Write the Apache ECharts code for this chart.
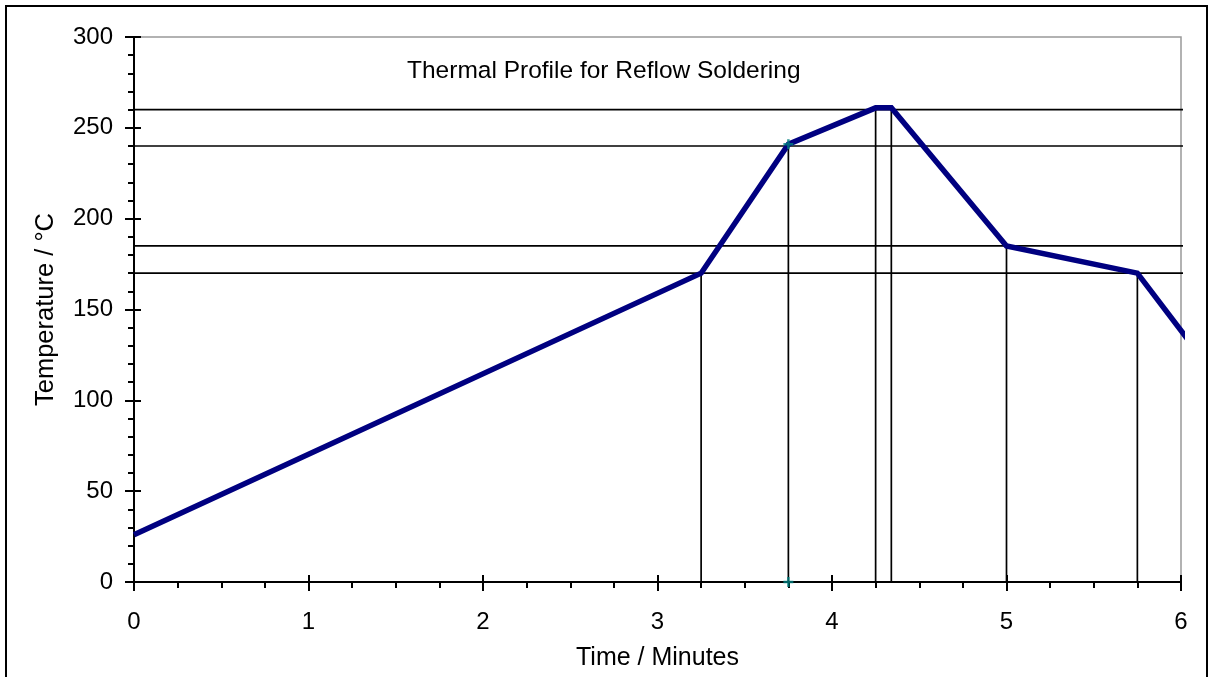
<!DOCTYPE html>
<html>
<head>
<meta charset="utf-8">
<script src="https://cdn.jsdelivr.net/npm/echarts@6/dist/echarts.min.js"></script>
<style>
html,body{margin:0;padding:0;background:#fff;}
#chart{width:1214px;height:677px;}
</style>
</head>
<body>
<div id="chart"></div>
<script>
// Profile (time in minutes, temperature in °C)
const profileTime = [0, 3.25, 3.75, 4.25, 4.34, 5, 5.75, 6.035];
const profileTemp = [26, 170, 241, 261, 261, 185, 170, 134];
// Vertical guide lines: x position and height
const vLineX = [3.25, 3.75, 4.25, 4.34, 5, 5.75];
const vLineTop = [170, 241, 261, 261, 185, 170];
// Horizontal guide lines
const hLevels = [170, 185, 240, 260];
const hSpan = [-0.035, 6.035];
// Cyan marker points
const markX = [3.75, 3.75];
const markY = [241, 0];
// Axis ticks
const xTicks = [0, 1, 2, 3, 4, 5, 6];
const yTicks = [0, 50, 100, 150, 200, 250, 300];

const FONT = 'Liberation Sans, Arial, sans-serif';
const chart = echarts.init(document.getElementById('chart'), null, {renderer: 'canvas'});

const series = [];
hLevels.forEach(v => {
  series.push({type: 'line', data: [[hSpan[0], v], [hSpan[1], v]], symbol: 'none', clip: false,
    lineStyle: {color: '#000', width: 1.7}, silent: true, z: 2});
});
vLineX.forEach((x, i) => {
  series.push({type: 'line', data: [[x, 0], [x, vLineTop[i]]], symbol: 'none', clip: false,
    lineStyle: {color: '#000', width: 1.7}, silent: true, z: 2});
});
series.push({type: 'line', data: profileTime.map((t, i) => [t, profileTemp[i]]), symbol: 'none', clip: false,
  lineStyle: {color: '#000080', width: 5.5, join: 'miter'}, z: 5});
series.push({type: 'scatter', data: markX.map((x, i) => [x, markY[i]]),
  symbol: 'path://M3,0h2v3h3v2h-3v3h-2v-3h-3v-2h3z', symbolSize: 10,
  itemStyle: {color: '#008080'}, clip: false, z: 6});

const axisCommon = {type: 'value', splitLine: {show: false}};
chart.setOption({
  animation: false,
  backgroundColor: '#fff',
  title: {
    text: 'Thermal Profile for Reflow Soldering',
    left: 407, top: 59, padding: 0,
    textStyle: {fontFamily: FONT, fontSize: 24.5, fontWeight: 'normal', color: '#000'}
  },
  graphic: [{type: 'rect', shape: {x: 6, y: 6, width: 1201, height: 700},
    style: {fill: null, stroke: '#000', lineWidth: 2}, z: -1}],
  grid: {left: 134, right: 33, top: 37, bottom: 95, show: true, borderColor: '#999', borderWidth: 1.5, backgroundColor: 'transparent'},
  xAxis: [
    Object.assign({}, axisCommon, {
      min: xTicks[0], max: xTicks[xTicks.length - 1], interval: 1, position: 'bottom',
      axisLine: {show: true, onZero: false, lineStyle: {color: '#000', width: 2}},
      axisTick: {show: true, inside: false, length: 9, lineStyle: {color: '#000', width: 2}},
      minorTick: {show: true, splitNumber: 4, length: 6, lineStyle: {color: '#000', width: 2}},
      axisLabel: {fontFamily: FONT, fontSize: 24, color: '#000', margin: 28},
      name: 'Time / Minutes', nameLocation: 'middle', nameGap: 64,
      nameTextStyle: {fontFamily: FONT, fontSize: 25, color: '#000'}
    }),
    Object.assign({}, axisCommon, {
      min: xTicks[0], max: xTicks[xTicks.length - 1], interval: 1, position: 'bottom',
      axisLine: {show: false, onZero: false},
      axisTick: {show: true, inside: true, length: 7, lineStyle: {color: '#000', width: 2}},
      axisLabel: {show: false}
    })
  ],
  yAxis: [
    Object.assign({}, axisCommon, {
      min: yTicks[0], max: yTicks[yTicks.length - 1], interval: 50, position: 'left',
      axisLine: {show: true, onZero: false, lineStyle: {color: '#000', width: 2}},
      axisTick: {show: true, inside: false, length: 9, lineStyle: {color: '#000', width: 2}},
      minorTick: {show: true, splitNumber: 5, length: 6, lineStyle: {color: '#000', width: 2}},
      axisLabel: {fontFamily: FONT, fontSize: 24, color: '#000', margin: 21},
      name: 'Temperature / °C', nameLocation: 'middle', nameGap: 75,
      nameTextStyle: {fontFamily: FONT, fontSize: 25.5, color: '#000'}
    }),
    Object.assign({}, axisCommon, {
      min: yTicks[0], max: yTicks[yTicks.length - 1], interval: 50, position: 'left',
      axisLine: {show: false, onZero: false},
      axisTick: {show: true, inside: true, length: 7, lineStyle: {color: '#000', width: 2}},
      axisLabel: {show: false}
    })
  ],
  series: series
});
</script>
</body>
</html>
